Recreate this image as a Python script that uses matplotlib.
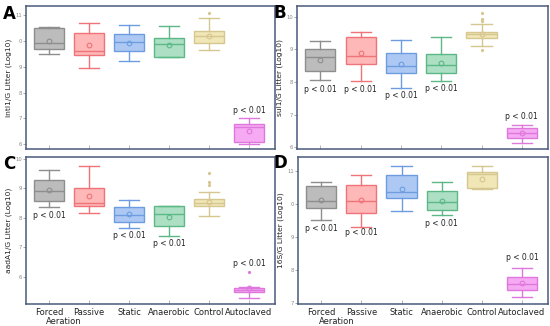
import matplotlib
matplotlib.use("Agg")
import matplotlib.pyplot as plt

categories = ["Forced", "Passive", "Static", "Anaerobic", "Control", "Autoclaved"]

face_colors = ["#bcbcbc", "#ffb8b8", "#adc9f3", "#acdfc3", "#f0e6b6", "#f6aaf3"]
edge_colors = ["#8e8e8e", "#ee7479", "#6d9de0", "#5db887", "#d6c68f", "#de78dc"]

# Panel A: intI1
A_whislo = [9.48, 8.97, 9.23, 9.36, 9.63, 6.00]
A_q1     = [9.67, 9.47, 9.61, 9.37, 9.92, 6.11]
A_med    = [9.90, 9.62, 9.97, 9.88, 10.18, 6.66]
A_q3     = [10.48, 10.31, 10.28, 10.12, 10.38, 6.79]
A_whishi = [10.52, 10.71, 10.62, 10.58, 10.87, 7.00]
A_mean   = [10.00, 9.83, 9.93, 9.84, 10.19, 6.51]
A_fliers = [[], [], [], [], [11.07], []]
A_p      = [None, None, None, None, None, 7.30]

# Panel B: sul1
B_whislo = [8.05, 8.02, 7.82, 8.04, 9.09, 6.14]
B_q1     = [8.33, 8.55, 8.27, 8.28, 9.34, 6.29]
B_med    = [8.78, 8.80, 8.49, 8.53, 9.47, 6.43]
B_q3     = [9.02, 9.38, 8.88, 8.86, 9.54, 6.60]
B_whishi = [9.26, 9.54, 9.30, 9.37, 9.78, 6.69]
B_mean   = [8.69, 8.88, 8.54, 8.59, 9.47, 6.43]
B_fliers = [[], [], [], [], [10.12, 9.94, 9.87, 8.97], []]
B_p      = [7.78, 7.77, 7.59, 7.80, None, 6.96]

# Panel C: aadA1
C_whislo = [8.37, 8.15, 7.64, 7.38, 8.06, 5.29]
C_q1     = [8.57, 8.41, 7.86, 7.72, 8.39, 5.48]
C_med    = [8.92, 8.51, 8.08, 8.13, 8.51, 5.56]
C_q3     = [9.28, 9.00, 8.35, 8.38, 8.63, 5.63]
C_whishi = [9.62, 9.77, 8.60, 8.41, 8.88, 5.66]
C_mean   = [8.94, 8.72, 8.13, 8.01, 8.52, 5.60]
C_fliers = [[], [], [], [], [9.51, 9.20, 9.10], [6.15]]
C_p      = [8.06, None, 7.38, 7.14, None, 6.44]

# Panel D: 16S
D_whislo = [9.52, 9.32, 9.80, 9.66, 10.46, 7.18]
D_q1     = [9.87, 9.72, 10.17, 9.82, 10.47, 7.41]
D_med    = [10.08, 10.10, 10.35, 10.05, 10.91, 7.59]
D_q3     = [10.54, 10.58, 10.87, 10.40, 10.96, 7.79]
D_whishi = [10.67, 10.87, 11.14, 10.67, 11.16, 8.06]
D_mean   = [10.12, 10.12, 10.46, 10.10, 10.77, 7.60]
D_fliers = [[], [], [], [], [], []]
D_p      = [9.27, 9.15, None, 9.42, None, 8.37]

panels = [
    ("A", "intI1/G Litter (Log10)", A_whislo, A_q1, A_med, A_q3, A_whishi, A_mean, A_fliers, A_p,
     (5.82, 11.35), [6, 7, 8, 9, 10, 11], ["6", "7", "8", "9", "0", "11"]),
    ("B", "sul1/G Litter (Log10)", B_whislo, B_q1, B_med, B_q3, B_whishi, B_mean, B_fliers, B_p,
     (5.95, 10.33), [6, 7, 8, 9, 10], ["6", "7", "8", "9", "10"]),
    ("C", "aadA1/G Litter (Log10)", C_whislo, C_q1, C_med, C_q3, C_whishi, C_mean, C_fliers, C_p,
     (5.07, 10.06), [6, 7, 8, 9, 10], ["6", "7", "8", "9", "10"]),
    ("D", "16S/G Litter (Log10)", D_whislo, D_q1, D_med, D_q3, D_whishi, D_mean, D_fliers, D_p,
     (6.98, 11.42), [7, 8, 9, 10, 11], ["7", "8", "9", "0", "11"]),
]

W, H = 550, 326
rects = [
    [26/W, 1-149/H, 249/W, 143/H],
    [297/W, 1-149/H, 251/W, 143/H],
    [26/W, 1-304/H, 249/W, 147/H],
    [298/W, 1-304/H, 250/W, 147/H],
]
letter_pos = [(9, 14), (280, 13), (9, 164), (280, 163)]

fig = plt.figure(figsize=(5.5, 3.26), dpi=100)
spine_col = "#4a5a7c"

for idx, (letter, ylabel, wlo, q1, med, q3, whi, mean, fl, pv, ylim, yt, ytl) in enumerate(panels):
    ax = fig.add_axes(rects[idx])
    positions = list(range(1, len(categories) + 1))
    for i in range(len(categories)):
        st = [dict(whislo=wlo[i], q1=q1[i], med=med[i], q3=q3[i], whishi=whi[i],
                   mean=mean[i], fliers=fl[i], label=categories[i])]
        ec = edge_colors[i]
        ax.bxp(st, positions=[positions[i]], widths=0.75, patch_artist=True,
               showmeans=True, showfliers=True, capwidths=0.5,
               boxprops=dict(facecolor=face_colors[i], edgecolor=ec, linewidth=1.0),
               medianprops=dict(color=ec, linewidth=1.0),
               whiskerprops=dict(color=ec, linewidth=1.0),
               capprops=dict(color=ec, linewidth=1.0),
               meanprops=dict(marker="o", markerfacecolor="none", markeredgecolor=ec,
                              markersize=3.4, markeredgewidth=0.8),
               flierprops=dict(marker="o", markerfacecolor=ec, markeredgecolor=ec,
                               markersize=1.3, linestyle="none"))
        if pv[i] is not None:
            ax.text(positions[i], pv[i], "p < 0.01", ha="center", va="center",
                    fontsize=5.5, color="#222222")
    ax.set_xlim(0.42, 6.65)
    ax.set_ylim(*ylim)
    ax.set_yticks(yt)
    ax.set_yticklabels(ytl)
    ax.tick_params(axis="y", labelsize=3.8, colors="#888888", length=2, width=0.5, pad=1)
    ax.tick_params(axis="x", direction="in", length=3, width=0.5, colors="#999999")
    ax.set_xticks(positions)
    if idx >= 2:
        ax.set_xticklabels(categories, fontsize=6, color="#222222")
        ax.tick_params(axis="x", labelcolor="#222222", pad=3)
    else:
        ax.set_xticklabels([])
    ax.set_ylabel(ylabel, fontsize=5.4, color="#222222", labelpad=2)
    for s in ax.spines.values():
        s.set_color(spine_col)
        s.set_linewidth(1.1)
    ax.set_facecolor("white")
    lx, ly = letter_pos[idx]
    fig.text(lx / W, 1 - ly / H, letter, fontsize=12, fontweight="bold",
             ha="center", va="center", color="black")

# second line of the first category label
fig.text(64 / W, 1 - 321 / H, "Aeration", fontsize=6, color="#222222", ha="center", va="center")
fig.text(337 / W, 1 - 321 / H, "Aeration", fontsize=6, color="#222222", ha="center", va="center")

fig.savefig("out.png", dpi=100)
